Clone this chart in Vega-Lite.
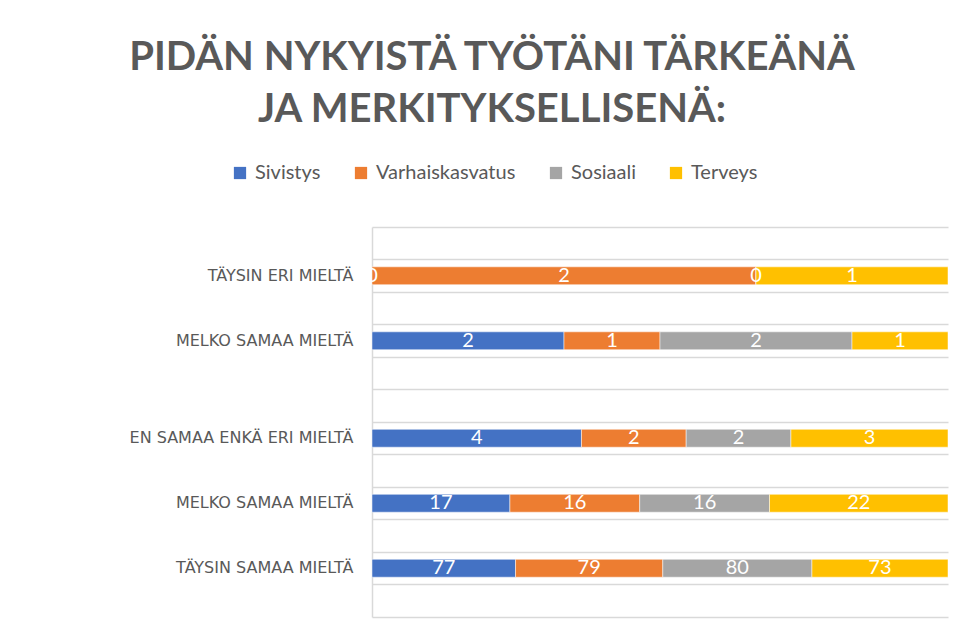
{
  "$schema": "https://vega.github.io/schema/vega-lite/v6.json",
  "width": 576,
  "height": 390,
  "autosize": {"type": "none"},
  "padding": {"left": 372, "top": 227, "right": 19, "bottom": 25},
  "background": "white",
  "title": {
    "text": ["PIDÄN NYKYISTÄ TYÖTÄNI TÄRKEÄNÄ", "JA MERKITYKSELLISENÄ:"],
    "anchor": "middle",
    "dx": -168,
    "offset": 33,
    "font": "Lato",
    "fontSize": 40,
    "fontWeight": "bold",
    "color": "#595959",
    "lineHeight": 52
  },
  "data": {
    "values": [
      {"kategoria": "TÄYSIN ERI MIELTÄ", "sarja": "Sivistys", "jarj": 1, "arvo": 0},
      {"kategoria": "TÄYSIN ERI MIELTÄ", "sarja": "Varhaiskasvatus", "jarj": 2, "arvo": 2},
      {"kategoria": "TÄYSIN ERI MIELTÄ", "sarja": "Sosiaali", "jarj": 3, "arvo": 0},
      {"kategoria": "TÄYSIN ERI MIELTÄ", "sarja": "Terveys", "jarj": 4, "arvo": 1},
      {"kategoria": " MELKO SAMAA MIELTÄ", "sarja": "Sivistys", "jarj": 1, "arvo": 2},
      {"kategoria": " MELKO SAMAA MIELTÄ", "sarja": "Varhaiskasvatus", "jarj": 2, "arvo": 1},
      {"kategoria": " MELKO SAMAA MIELTÄ", "sarja": "Sosiaali", "jarj": 3, "arvo": 2},
      {"kategoria": " MELKO SAMAA MIELTÄ", "sarja": "Terveys", "jarj": 4, "arvo": 1},
      {"kategoria": "EN SAMAA ENKÄ ERI MIELTÄ", "sarja": "Sivistys", "jarj": 1, "arvo": 4},
      {"kategoria": "EN SAMAA ENKÄ ERI MIELTÄ", "sarja": "Varhaiskasvatus", "jarj": 2, "arvo": 2},
      {"kategoria": "EN SAMAA ENKÄ ERI MIELTÄ", "sarja": "Sosiaali", "jarj": 3, "arvo": 2},
      {"kategoria": "EN SAMAA ENKÄ ERI MIELTÄ", "sarja": "Terveys", "jarj": 4, "arvo": 3},
      {"kategoria": "MELKO SAMAA MIELTÄ", "sarja": "Sivistys", "jarj": 1, "arvo": 17},
      {"kategoria": "MELKO SAMAA MIELTÄ", "sarja": "Varhaiskasvatus", "jarj": 2, "arvo": 16},
      {"kategoria": "MELKO SAMAA MIELTÄ", "sarja": "Sosiaali", "jarj": 3, "arvo": 16},
      {"kategoria": "MELKO SAMAA MIELTÄ", "sarja": "Terveys", "jarj": 4, "arvo": 22},
      {"kategoria": "TÄYSIN SAMAA MIELTÄ", "sarja": "Sivistys", "jarj": 1, "arvo": 77},
      {"kategoria": "TÄYSIN SAMAA MIELTÄ", "sarja": "Varhaiskasvatus", "jarj": 2, "arvo": 79},
      {"kategoria": "TÄYSIN SAMAA MIELTÄ", "sarja": "Sosiaali", "jarj": 3, "arvo": 80},
      {"kategoria": "TÄYSIN SAMAA MIELTÄ", "sarja": "Terveys", "jarj": 4, "arvo": 73}
    ]
  },
  "encoding": {
    "y": {
      "field": "kategoria",
      "type": "nominal",
      "scale": {
        "domain": [" ", "TÄYSIN ERI MIELTÄ", "  ", " MELKO SAMAA MIELTÄ", "   ", "    ", "EN SAMAA ENKÄ ERI MIELTÄ", "     ", "MELKO SAMAA MIELTÄ", "      ", "TÄYSIN SAMAA MIELTÄ", "       "],
        "paddingInner": 0,
        "paddingOuter": 0
      },
      "axis": {
        "title": null,
        "ticks": false,
        "grid": true,
        "bandPosition": 0,
        "gridColor": "#d9d9d9",
        "gridWidth": 1.5,
        "domainColor": "#d9d9d9",
        "domainWidth": 1.5,
        "labelFont": "DejaVu Sans",
        "labelFontSize": 16,
        "labelColor": "#595959",
        "labelPadding": 19,
        "labelLimit": 400
      }
    }
  },
  "layer": [
    {
      "mark": {"type": "bar", "height": {"band": 0.55}, "stroke": "white", "strokeWidth": 0.5},
      "encoding": {
        "x": {
          "field": "arvo",
          "type": "quantitative",
          "stack": "normalize",
          "scale": {"domain": [0, 1], "nice": false},
          "axis": {"title": null, "labels": false, "ticks": false, "grid": false, "domain": true, "domainColor": "#d9d9d9", "domainWidth": 1.5}
        },
        "color": {
          "field": "sarja",
          "type": "nominal",
          "scale": {
            "domain": ["Sivistys", "Varhaiskasvatus", "Sosiaali", "Terveys"],
            "range": ["#4472C4", "#ED7D31", "#A5A5A5", "#FFC000"]
          },
          "legend": {
            "title": null,
            "orient": "none",
            "direction": "horizontal",
            "legendX": -142,
            "legendY": -64,
            "symbolType": "square",
            "symbolSize": 150,
            "symbolStrokeWidth": 0,
            "labelFont": "Lato",
            "labelFontSize": 20,
            "labelColor": "#595959",
            "labelOffset": 5,
            "columnPadding": 30
          }
        },
        "order": {"field": "jarj", "type": "quantitative"}
      }
    },
    {
      "mark": {"type": "text", "color": "white", "font": "Lato", "fontSize": 20},
      "encoding": {
        "x": {"field": "arvo", "type": "quantitative", "stack": "normalize", "bandPosition": 0.5},
        "detail": {"field": "sarja", "type": "nominal"},
        "order": {"field": "jarj", "type": "quantitative"},
        "text": {"field": "arvo", "type": "quantitative"}
      }
    }
  ],
  "config": {
    "view": {"stroke": null}
  }
}
